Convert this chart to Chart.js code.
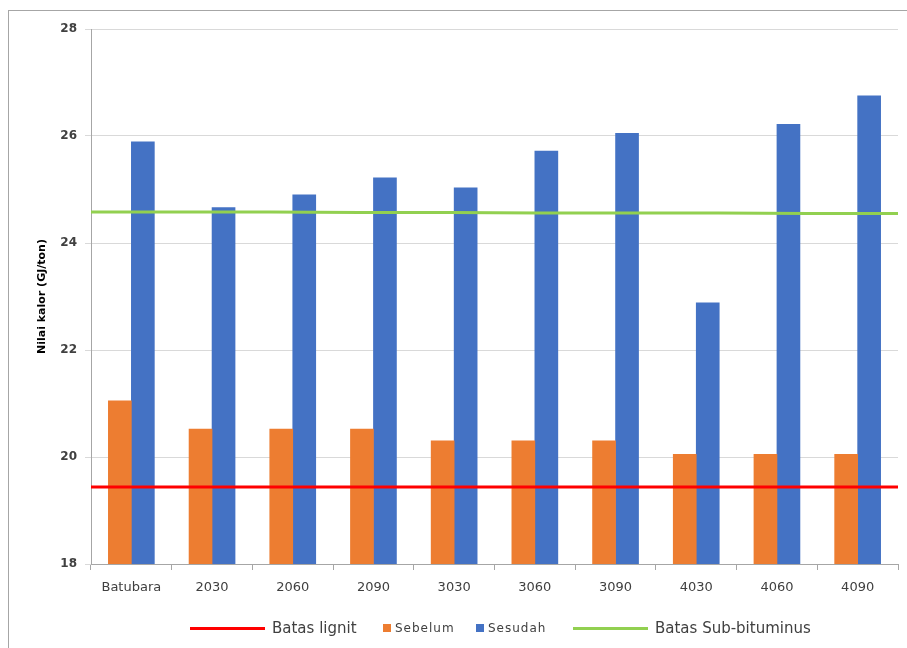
<!DOCTYPE html>
<html>
<head>
<meta charset="utf-8">
<script src="https://cdn.jsdelivr.net/npm/chart.js@4"></script>
<style>
  body { margin: 0; background: #fff; }
  #wrap { position: relative; width: 907px; height: 648px; }
  #frame { position: absolute; left: 8px; top: 10px; width: 920px; height: 660px;
           border-left: 1px solid #a6a6a6; border-top: 1px solid #a6a6a6; }
  #legend { position: absolute; top: 616px; left: 0; width: 907px; height: 24px;
            font-family: "DejaVu Sans", sans-serif; color: #404040; }
  .item { position: absolute; top: 0; height: 24px; display: flex; align-items: center; white-space: nowrap; }
  .ln { display: inline-block; width: 75px; height: 3px; margin-right: 7px; }
  .sq { display: inline-block; width: 8px; height: 8px; margin-right: 4px; }
</style>
</head>
<body>
<div id="wrap">
  <div id="frame"></div>
  <canvas id="chart" width="907" height="648"></canvas>
  <div id="legend">
    <div class="item" style="left:190px;font-size:15px"><span class="ln" style="background:#ff0000"></span>Batas lignit</div>
    <div class="item" style="left:383px;font-size:12px;letter-spacing:1px"><span class="sq" style="background:#ed7d31"></span>Sebelum</div>
    <div class="item" style="left:476px;font-size:12px;letter-spacing:1px"><span class="sq" style="background:#4472c4"></span>Sesudah</div>
    <div class="item" style="left:573px;font-size:15px"><span class="ln" style="background:#92d050"></span>Batas Sub-bituminus</div>
  </div>
</div>
<script>
const categories = ['Batubara', '2030', '2060', '2090', '3030', '3060', '3090', '4030', '4060', '4090']

const sebelum = [21.05, 20.52, 20.52, 20.52, 20.30, 20.30, 20.30, 20.05, 20.05, 20.05]
const sesudah = [25.89, 24.66, 24.90, 25.22, 25.03, 25.72, 26.05, 22.88, 26.22, 26.75]
const batasLignit = [19.44, 19.44, 19.44, 19.44, 19.44, 19.44, 19.44, 19.44, 19.44, 19.44]
const batasSubBituminus = [24.58, 24.58, 24.58, 24.57, 24.57, 24.56, 24.56, 24.56, 24.55, 24.55]

const yTicks = [18, 20, 22, 24, 26, 28]

const ctx = document.getElementById('chart')

var myChart = new Chart(ctx, {
    type: 'bar',
    data: {
        labels: categories,
        datasets: [
            {
                type: 'line',
                label: 'Batas lignit',
                data: batasLignit,
                xAxisID: 'x2',
                borderColor: '#ff0000',
                borderWidth: 3,
                pointRadius: 0,
                fill: false,
                order: 0
            },
            {
                label: 'Sebelum',
                data: sebelum,
                backgroundColor: '#ed7d31',
                barThickness: 23,
                order: 1
            },
            {
                label: 'Sesudah',
                data: sesudah,
                backgroundColor: '#4472c4',
                barThickness: 23,
                order: 1
            },
            {
                type: 'line',
                label: 'Batas Sub-bituminus',
                data: batasSubBituminus,
                xAxisID: 'x2',
                borderColor: '#92d050',
                borderWidth: 3,
                pointRadius: 0,
                fill: false,
                order: 0
            }
        ]
    },
    options: {
        responsive: false,
        animation: false,
        layout: {
            padding: { top: 29, right: 9, bottom: 0, left: 36 }
        },
        plugins: {
            legend: { display: false },
            tooltip: { enabled: false }
        },
        scales: {
            x: {
                offset: true,
                grid: {
                    offset: true,
                    drawOnChartArea: false,
                    drawTicks: true,
                    tickLength: 6,
                    color: '#a6a6a6'
                },
                border: { color: '#a6a6a6', width: 1 },
                ticks: {
                    font: { family: 'DejaVu Sans', size: 13 },
                    color: '#404040',
                    padding: 10,
                    maxRotation: 0
                },
                afterFit: (scale) => { scale.height = 84 }
            },
            // hidden axis so the two limit lines run edge to edge
            x2: {
                type: 'category',
                labels: categories,
                offset: false,
                display: false
            },
            y: {
                min: 18,
                max: 28,
                afterBuildTicks: (scale) => { scale.ticks = yTicks.map(v => ({ value: v })) },
                grid: {
                    color: '#d9d9d9',
                    drawTicks: true,
                    tickLength: 6
                },
                border: { color: '#a6a6a6', width: 1 },
                ticks: {
                    font: { family: 'DejaVu Sans', size: 12, weight: 'bold' },
                    color: '#404040',
                    padding: 8
                },
                title: {
                    display: true,
                    text: 'Nilai kalor (GJ/ton)',
                    font: { family: 'DejaVu Sans', size: 11, weight: 'bold' },
                    color: '#000',
                    padding: { top: 0, bottom: 6 }
                },
                afterFit: (scale) => { scale.width = 55 }
            }
        }
    }
})
</script>
</body>
</html>
